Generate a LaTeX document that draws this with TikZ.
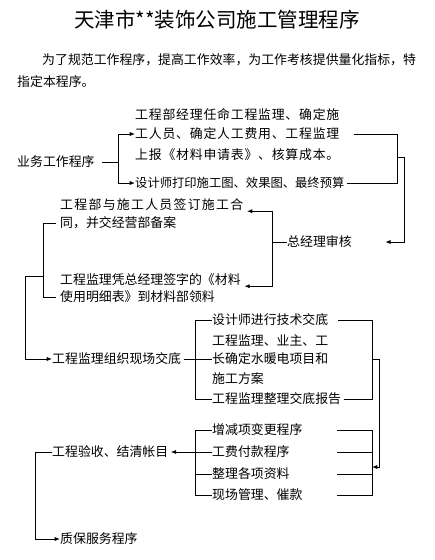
\documentclass[tikz,border=0pt]{standalone}
\usepackage{fontspec}
\usetikzlibrary{arrows.meta}
\newfontfamily\cjk{Noto Sans CJK SC}
\newfontfamily\cjka[LetterSpace=6]{Noto Sans CJK SC}
\newfontfamily\cjkb[LetterSpace=10]{Noto Sans CJK SC}

\begin{document}
\begin{tikzpicture}[x=0.03cm, y=-0.03cm,
  every node/.style={anchor=west, inner sep=0pt, font=\cjk\fontsize{11}{13}\selectfont},
  ancho/.style={font=\cjka\fontsize{11}{13}\selectfont},
  masancho/.style={font=\cjkb\fontsize{11}{13}\selectfont},
  lnk/.style={line width=0.7pt},
  arr/.style={lnk, -{Latex[length=4.5pt,width=3.5pt]}}]

\useasboundingbox (0,0) rectangle (434,560);

% Titulo y texto de entrada
\node[anchor=center, font=\cjk\fontsize{17.5}{20}\selectfont] (title) at (217,20) {天津市**装饰公司施工管理程序};
\node (intro1) at (42,60) {为了规范工作程序，提高工作效率，为工作考核提供量化指标，特};
\node (intro2) at (17,82) {指定本程序。};

% Programa de trabajo
\node (yw) at (17,162) {业务工作程序};
\node[ancho] (a1) at (135,115) {工程部经理任命工程监理、确定施};
\node[ancho] (a2) at (135,134) {工人员、确定人工费用、工程监理};
\node[ancho] (a3) at (135,155) {上报《材料申请表》、核算成本。};
\node[font=\cjk\fontsize{10.5}{13}\selectfont] (b) at (135,183) {设计师打印施工图、效果图、最终预算};

% Revision del gerente
\node (zj) at (287,242) {总经理审核};
\node[masancho] (c1) at (60,205) {工程部与施工人员签订施工合};
\node (c2) at (60,223) {同，并交经营部备案};
\node (c3) at (60,280) {工程监理凭总经理签字的《材料};
\node (c4) at (60,297) {使用明细表》到材料部领料};

% Entrega en obra
\node (d) at (52,359) {工程监理组织现场交底};
\node (e1) at (212,320) {设计师进行技术交底};
\node (e2) at (212,341) {工程监理、业主、工};
\node (e3) at (212,359) {长确定水暖电项目和};
\node (e4) at (212,379) {施工方案};
\node (e5) at (212,399) {工程监理整理交底报告};

% Recepcion y cierre
\node (f) at (52,452) {工程验收、结清帐目};
\node (g1) at (212,430) {增减项变更程序};
\node (g2) at (212,452) {工费付款程序};
\node (g3) at (212,474) {整理各项资料};
\node (g4) at (212,495) {现场管理、催款};
\node (h) at (60,539) {质保服务程序};

% Puntos de union
\coordinate (j1) at (118,162);
\coordinate (k1) at (397,157);
\coordinate (k2) at (404,157);
\coordinate (j2) at (272,242);
\coordinate (j3) at (43,276);
\coordinate (j4) at (25,276);
\coordinate (j5) at (195,359);
\coordinate (j6) at (372,359);
\coordinate (j7) at (379,359);
\coordinate (j8) at (372,467);
\coordinate (gx) at (337,0);
\coordinate (j9) at (195,452);
\coordinate (j10) at (35,452);

% Conexiones
\draw[lnk] ([xshift=6pt]yw.east) -- (j1);
\draw[arr] (j1) |- (a2.west);
\draw[arr] (j1) |- (b.west);

\draw[lnk] ([xshift=12pt]a2.east) -| (k1);
\draw[lnk] ([xshift=2pt]b.east) -| (k1);
\draw[arr] (k1) -- (k2) |- ([xshift=1cm]zj.east);

\draw[lnk] (zj.west) -- (j2);
\draw[arr] (j2) |- ([xshift=3pt]c1.south east);
\draw[arr] (j2) |- ([xshift=3pt]c3.south east);

\draw[lnk] (j3) |- ([xshift=-3pt]c2.west);
\draw[lnk] (j3) |- ([xshift=-3pt]c4.west);
\draw[arr] (j3) -- (j4) |- (d.west);

\draw[lnk] ([xshift=2pt]d.east) -- (e3.west);
\draw[lnk] (j5) |- (e1.west);
\draw[lnk] (j5) |- (e5.west);

\draw[lnk] ([xshift=8pt]e1.east) -| (j6);
\draw[lnk] ([xshift=2pt]e5.east) -| (j6);
\draw[arr] (j6) -- (j7) |- (j8);

\draw[lnk] (g1 -| gx) -| (j8);
\draw[lnk] (g2 -| gx) -| (j8);
\draw[lnk] (g3 -| gx) -| (j8);
\draw[lnk] (g4 -| gx) -| (j8);

\draw[lnk] (j9) |- (g1.west);
\draw[lnk] (j9) |- (g4.west);
\draw[lnk] (j9) -- (g2.west);
\draw[lnk] (j9) |- (g3.west);
\draw[arr] (j9) -- ([xshift=2pt]f.east);

\draw[lnk] (f.west) -- (j10);
\draw[arr] (j10) |- (h.west);

\end{tikzpicture}
\end{document}
